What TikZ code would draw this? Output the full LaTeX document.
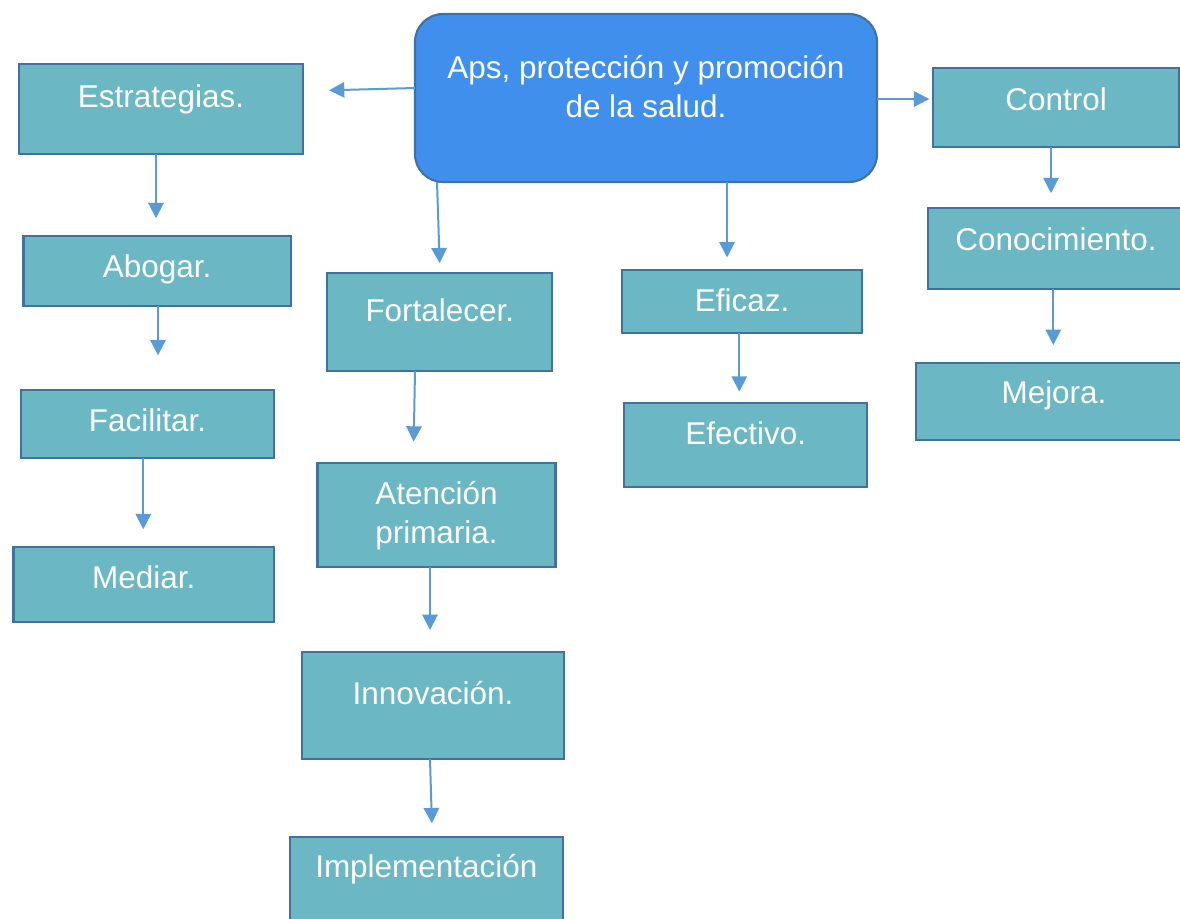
\documentclass[tikz,border=0pt]{standalone}
\usepackage{fontspec}
\setmainfont{Liberation Sans}
\usetikzlibrary{arrows.meta}
\definecolor{mainblue}{RGB}{65,143,236}
\definecolor{teal}{RGB}{107,183,196}
\definecolor{edge}{RGB}{65,113,156}
\definecolor{arrowc}{RGB}{91,155,213}
\begin{document}
\begin{tikzpicture}[x=0.75pt,y=-0.75pt,
  box/.style={draw=edge,line width=1.6pt,fill=teal,text=white,anchor=north west,
    inner sep=0pt,outer sep=0pt,align=center,
    font=\fontsize{23.6pt}{29.5pt}\selectfont},
  mainbox/.style={box,fill=mainblue,rounded corners=21pt},
  arr/.style={draw=arrowc,line width=1.5pt,-{Triangle[width=11.5pt,length=11.5pt]}}]
\path[use as bounding box,clip] (0,0) rectangle (1180,918);

\node[mainbox,minimum width=346.5pt,minimum height=126pt,text height=48.2pt,text depth=77.8pt] (main) at (415,14)
  {\begin{tabular}[t]{@{}c@{}}Aps, protección y promoción\\de la salud.\end{tabular}};

\node[box,minimum width=213pt,minimum height=67.5pt,text height=32.8pt,text depth=34.7pt] (est) at (19,64) {Estrategias.};
\node[box,minimum width=200.6pt,minimum height=52.5pt,text height=31.3pt,text depth=21.2pt] (abo) at (23.5,236) {Abogar.};
\node[box,minimum width=189.8pt,minimum height=51pt,text height=31.3pt,text depth=19.7pt] (fac) at (21,390) {Facilitar.};
\node[box,minimum width=195.4pt,minimum height=56.3pt,text height=30.8pt,text depth=25.5pt] (med) at (13.5,547.3) {Mediar.};

\node[box,minimum width=168.8pt,minimum height=73.3pt,text height=35.8pt,text depth=37.5pt] (fort) at (327.3,273.3) {Fortalecer.};
\node[box,minimum width=178.5pt,minimum height=78.5pt,text height=31.2pt,text depth=47.3pt] (aten) at (317.5,462.7)
  {\begin{tabular}[t]{@{}c@{}}Atención\\primaria.\end{tabular}};
\node[box,minimum width=196.5pt,minimum height=80.3pt,text height=39pt,text depth=41.3pt] (inno) at (302,652) {Innovación.};
\node[box,minimum width=204.5pt,minimum height=69.5pt,text height=30pt,text depth=39.5pt] (impl) at (290,837.3) {Implementación};

\node[box,minimum width=180.5pt,minimum height=47.5pt,text height=31.3pt,text depth=16.2pt] (efz) at (621.7,270) {Eficaz.};
\node[box,minimum width=182.5pt,minimum height=63.5pt,text height=31pt,text depth=32.5pt] (efv) at (624,402.7) {Efectivo.};

\node[box,minimum width=184.3pt,minimum height=58.8pt,text height=31.8pt,text depth=27pt] (ctl) at (933.3,68.3) {Control};
\node[box,minimum width=191.6pt,minimum height=60.3pt,text height=31.3pt,text depth=29pt] (con) at (928.3,208.3) {Conocimiento.};
\node[box,minimum width=207pt,minimum height=58pt,text height=30.5pt,text depth=27.5pt] (mej) at (916,362.7) {Mejora.};

\draw[arr,shorten >=19.5pt] (main.west |- 0,88) -- (est.east |- 0,91);
\draw[arr,shorten >=3pt] (main.east |- 0,99) -- (ctl.west |- 0,99);
\draw[arr,shorten >=7.5pt] (main.south -| 437,0) -- (fort.north -| 440,0);
\draw[arr,shorten >=9.4pt] (main.south -| 727,0) -- (efz.north -| 727,0);

\draw[arr,shorten >=13.3pt] (est.south -| 156,0) -- (abo.north -| 156,0);
\draw[arr,shorten >=26pt] (abo.south -| 158,0) -- (fac.north -| 158,0);
\draw[arr,shorten >=13.5pt] (fac.south -| 143.3,0) -- (med.north -| 143.3,0);

\draw[arr,shorten >=15.8pt] (fort.south -| 415,0) -- (aten.north -| 413.3,0);
\draw[arr,shorten >=16.5pt] (aten.south -| 430,0) -- (inno.north -| 430,0);
\draw[arr,shorten >=10.5pt] (inno.south -| 430,0) -- (impl.north -| 432.3,0);

\draw[arr,shorten >=8.3pt] (efz.south -| 739.3,0) -- (efv.north -| 739.3,0);

\draw[arr,shorten >=11.3pt] (ctl.south -| 1051,0) -- (con.north -| 1051,0);
\draw[arr,shorten >=13.3pt] (con.south -| 1053.3,0) -- (mej.north -| 1053.3,0);
\end{tikzpicture}
\end{document}
